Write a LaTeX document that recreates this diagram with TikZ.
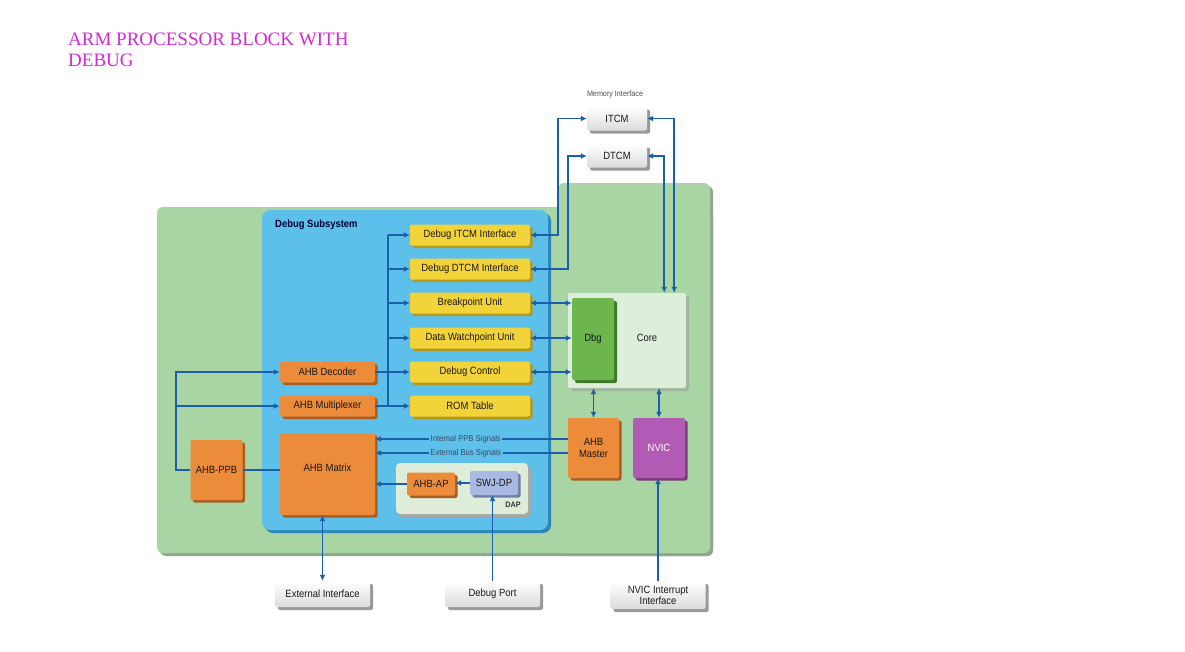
\documentclass[tikz,border=0pt]{standalone}
\usepackage{fontspec}
\setmainfont[FakeStretch=0.9]{Liberation Sans}
\newfontfamily\titlefont{Liberation Serif}
\usetikzlibrary{arrows.meta,shadows,calc}
\definecolor{bgreen}{HTML}{A8D5A3}
\definecolor{gshadow}{HTML}{8FA88C}
\definecolor{bblue}{HTML}{5CC0EA}
\definecolor{bshadow}{HTML}{2E86B8}
\definecolor{byellow}{HTML}{F2D43A}
\definecolor{yshadow}{HTML}{B39A1E}
\definecolor{borange}{HTML}{EC8B3A}
\definecolor{oshadow}{HTML}{A95E22}
\definecolor{bline}{HTML}{1B5EAB}
\definecolor{bpurple}{HTML}{B25BB5}
\definecolor{pshadow}{HTML}{7A3A7E}
\definecolor{blav}{HTML}{A9B9E2}
\definecolor{lshadow}{HTML}{6F7FA8}
\definecolor{bcore}{HTML}{DDEFDB}
\definecolor{cshadow}{HTML}{9FB59D}
\definecolor{bdbg}{HTML}{6DB64E}
\definecolor{dshadow}{HTML}{3F7A2B}
\definecolor{bdap}{HTML}{DDEDD9}
\definecolor{btitle}{HTML}{D22BD2}
\definecolor{btxt}{HTML}{3A4A66}
\tikzset{
  conn/.style={draw=bline, line width=1.6pt},
  arr/.style={conn, -{Latex[length=6pt,width=6pt]}},
  darr/.style={conn, {Latex[length=6pt,width=6pt]}-{Latex[length=6pt,width=6pt]}},
  box/.style={inner sep=0pt, align=center, font=\fontsize{10.5}{11.5}\selectfont, text=black!90},
  yel/.style={box, fill=byellow, minimum width=120pt, minimum height=21pt, rounded corners=2pt,
    drop shadow={shadow xshift=2.5pt, shadow yshift=-2.5pt, opacity=1, fill=yshadow}},
  ora/.style={box, fill=borange, rounded corners=2pt,
    drop shadow={shadow xshift=2.5pt, shadow yshift=-2.5pt, opacity=1, fill=oshadow}},
  pur/.style={box, fill=bpurple, text=white, rounded corners=2pt,
    drop shadow={shadow xshift=2.5pt, shadow yshift=-2.5pt, opacity=1, fill=pshadow}},
  lav/.style={box, fill=blav, rounded corners=2pt,
    drop shadow={shadow xshift=2.5pt, shadow yshift=-2.5pt, opacity=1, fill=lshadow}},
  gry/.style={box, top color=white, bottom color=black!14, rounded corners=2pt,
    drop shadow={shadow xshift=3pt, shadow yshift=-3pt, opacity=1, fill=black!40}},
  sig/.style={inner sep=1.5pt, fill=bblue, text=btxt, font=\fontsize{8.5}{9}\selectfont},
}
\begin{document}
\begin{tikzpicture}[x=1pt,y=-1pt]
\useasboundingbox (0,0) rectangle (1185,651);
\fill[white] (0,0) rectangle (1185,651);
% title
\node[anchor=base west, inner sep=0pt, align=left, text=btitle,
  font=\titlefont\fontsize{19}{20.5}\selectfont] (title) at (68,66)
  {ARM PROCESSOR BLOCK WITH\\DEBUG};
% green processor region
\fill[gshadow, rounded corners=6pt] (160,210) rectangle (713,556);
\fill[gshadow, rounded corners=6pt] (561,186) rectangle (713,556);
\fill[bgreen, rounded corners=6pt] (157,207) rectangle (710,553);
\fill[bgreen, rounded corners=6pt] (558,183) rectangle (710,553);
% debug subsystem region
\fill[bshadow, rounded corners=8pt] (265,213) rectangle (551,533);
\fill[bblue, rounded corners=8pt] (262,210) rectangle (548,530);
\node[anchor=west, inner sep=0pt, font=\bfseries\fontsize{10.5}{11}\selectfont, text=black!80!blue]
  (dstitle) at (275,225) {Debug Subsystem};
% DAP region
\fill[black!35, rounded corners=4pt] (398,466) rectangle (531,517);
\fill[bdap, rounded corners=4pt] (396,463) rectangle (528,514);
\node[inner sep=0pt, font=\bfseries\fontsize{8}{9}\selectfont, text=black!80] (daplbl) at (513,505) {DAP};
% yellow units
\node[yel] (ditcm) at (470,235) {Debug ITCM Interface};
\node[yel] (ddtcm) at (470,269) {Debug DTCM Interface};
\node[yel] (bp)    at (470,303) {Breakpoint Unit};
\node[yel] (dw)    at (470,338) {Data Watchpoint Unit};
\node[yel] (dc)    at (470,372) {Debug Control};
\node[yel] (rom)   at (470,406) {ROM Table};
% orange blocks
\node[ora, minimum width=95pt, minimum height=21pt] (dec) at (327.5,372) {AHB Decoder};
\node[ora, minimum width=95pt, minimum height=21pt] (mux) at (327.5,406) {AHB Multiplexer};
\node[ora, minimum width=95pt, minimum height=82pt, text depth=0pt] (matrix) at (327.5,474) {};
\node[box] (matrixlbl) at (327.5,468) {AHB Matrix};
\node[ora, minimum width=52pt, minimum height=60pt] (ppb) at (216.5,470) {AHB-PPB};
\node[ora, minimum width=48pt, minimum height=23pt] (ap) at (431,484) {AHB-AP};
\node[lav, minimum width=48pt, minimum height=24pt] (swj) at (494,483) {SWJ-DP};
% core
\node[box, fill=bcore, minimum width=118pt, minimum height=95pt, rounded corners=2pt,
  drop shadow={shadow xshift=3pt, shadow yshift=-3pt, opacity=1, fill=cshadow}] (core) at (627,340.5) {};
\node[box] (corelbl) at (647,338) {Core};
\node[box, fill=bdbg, minimum width=42pt, minimum height=82pt, rounded corners=2pt,
  drop shadow={shadow xshift=3pt, shadow yshift=-3pt, opacity=1, fill=dshadow}] (dbg) at (593,339) {Dbg};
\node[ora, minimum width=51pt, minimum height=60pt] (master) at (593.5,448) {AHB\\Master};
\node[pur, minimum width=52pt, minimum height=60pt] (nvic) at (659,448) {NVIC};
% memories
\node[inner sep=0pt, font=\fontsize{8}{9}\selectfont, text=black!70] (memlbl) at (615,94) {Memory Interface};
\node[gry, minimum width=60pt, minimum height=24pt] (itcm) at (617,118.5) {ITCM};
\node[gry, minimum width=60pt, minimum height=23pt] (dtcm) at (617,156) {DTCM};
% external
\node[gry, minimum width=95pt, minimum height=26pt] (ext) at (322.5,594) {External Interface};
\node[gry, minimum width=95pt, minimum height=26pt] (dport) at (492.5,594) {Debug Port};
\node[gry, minimum width=95pt, minimum height=28pt, font=\fontsize{10.5}{11}\selectfont] (nii) at (658,595) {NVIC Interrupt\\Interface};
% bus from decoder / multiplexer to units
\coordinate (bus) at (388,300);
\draw[conn] (ditcm.west -| bus) -- (rom.west -| bus);
\draw[conn] (dec.east) -- (dec.east -| bus);
\draw[conn] (mux.east) -- (mux.east -| bus);
\foreach \u in {ditcm,ddtcm,bp,dw,dc,rom}
  \draw[arr] (\u.west -| bus) -- (\u.west);
% left bus from AHB-PPB
\coordinate (lbus) at (176,400);
\draw[arr] (ppb.west) -- (ppb.west -| lbus) |- (dec.west);
\draw[arr] (mux.west -| lbus) -- (mux.west);
\draw[conn] (ppb.east) -- (ppb.east -| matrix.west);
% TCM interfaces
\draw[darr] (ditcm.east) -- ++(28,0) |- (itcm.west);
\draw[darr] (ddtcm.east) -- ++(38,0) |- (dtcm.west);
\draw[darr] (itcm.east) -| ($(core.north east)+(-12,0)$);
\draw[darr] (dtcm.east) -| ($(core.north east)+(-22,0)$);
% units to Dbg
\draw[darr] (bp.east) -- (bp.east -| dbg.west);
\draw[darr] (dw.east) -- (dw.east -| dbg.west);
\draw[darr] (dc.east) -- (dc.east -| dbg.west);
% core to master / nvic
\draw[darr] (master.north) -- (master.north |- core.south);
\draw[darr] (nvic.north) -- (nvic.north |- core.south);
% master to matrix
\draw[arr] ([yshift=9pt]master.west) -- ([yshift=9pt]master.west -| matrix.east)
  node[sig, pos=0.53] (ippb) {Internal PPB Signals};
\draw[arr] ([yshift=-5pt]master.west) -- ([yshift=-5pt]master.west -| matrix.east)
  node[sig, pos=0.53] (ebus) {External Bus Signals};
% DAP
\draw[arr] (swj.west) -- (swj.west -| ap.east);
\draw[arr] (ap.west) -- (ap.west -| matrix.east);
% external connections
\draw[arr] (dport.north) -- (dport.north |- swj.south);
\draw[arr] (nii.north) -- (nii.north |- nvic.south);
\draw[darr] (ext.north) -- (ext.north |- matrix.south);
\end{tikzpicture}
\end{document}
